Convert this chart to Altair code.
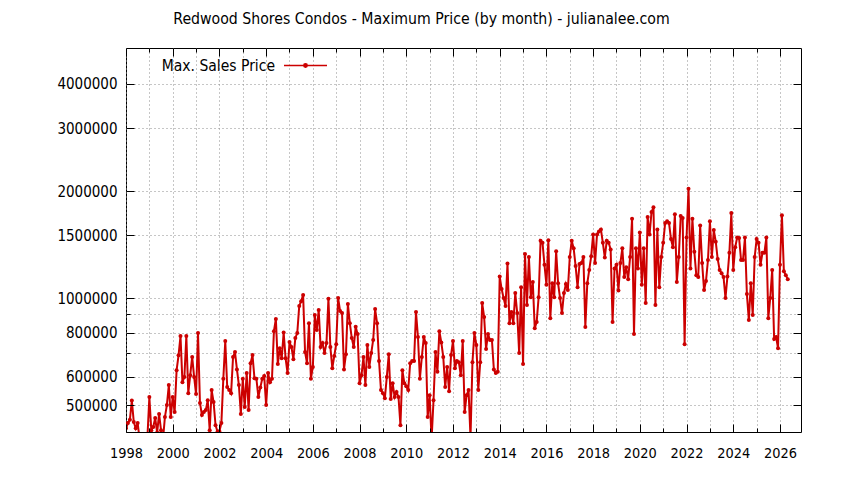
import altair as alt
import pandas as pd

TITLE = "Redwood Shores Condos - Maximum Price (by month) - julianalee.com"
SERIES = "Max. Sales Price"
FONT = "DejaVu Sans Condensed, DejaVu Sans"
RED = "#cc0000"

# Monthly maximum sales price, in thousands of dollars (Jan..Dec of each year)
p1998 = [430, 445, 455, 515, 448, 430, 445, 400, 385, 410, 395, 405]
p1999 = [527, 425, 434, 460, 418, 472, 425, 400, 463, 500, 569, 463]
p2000 = [527, 478, 627, 690, 782, 580, 600, 782, 540, 607, 683, 600]
p2001 = [537, 797, 507, 469, 478, 484, 516, 425, 551, 510, 439, 421]
p2002 = [422, 445, 593, 757, 562, 551, 540, 683, 705, 630, 569, 472]
p2003 = [593, 494, 615, 484, 656, 691, 595, 593, 527, 560, 593, 604]
p2004 = [500, 615, 580, 593, 807, 873, 652, 723, 677, 800, 677, 615]
p2005 = [752, 728, 673, 772, 797, 950, 980, 1020, 705, 656, 850, 593]
p2006 = [640, 896, 813, 925, 728, 747, 700, 747, 995, 728, 635, 687]
p2007 = [742, 1000, 919, 907, 630, 695, 962, 850, 772, 728, 830, 792]
p2008 = [576, 607, 683, 569, 738, 640, 700, 762, 931, 850, 665, 551]
p2009 = [540, 523, 600, 695, 520, 576, 527, 544, 527, 439, 627, 576]
p2010 = [565, 551, 656, 665, 665, 913, 777, 593, 683, 777, 747, 463]
p2011 = [533, 400, 516, 705, 620, 807, 750, 683, 562, 640, 547, 691]
p2012 = [757, 635, 665, 660, 607, 757, 478, 533, 551, 405, 660, 797]
p2013 = [738, 551, 660, 968, 885, 719, 792, 762, 762, 630, 615, 620]
p2014 = [1150, 1060, 1000, 950, 1250, 850, 913, 850, 1033, 907, 700, 1073]
p2015 = [652, 1330, 956, 1304, 1006, 1110, 823, 856, 1006, 1450, 1430, 1240]
p2016 = [1090, 1455, 878, 1100, 1006, 1355, 1100, 1000, 907, 1033, 1095, 1053]
p2017 = [1304, 1450, 1380, 1230, 1073, 1246, 1254, 1304, 829, 1100, 1200, 1310]
p2018 = [1510, 1254, 1510, 1540, 1560, 1430, 1300, 1450, 1430, 1370, 856, 1210]
p2019 = [1240, 1050, 1254, 1380, 1146, 1220, 1130, 1304, 1670, 792, 1380, 1210]
p2020 = [1530, 1090, 1380, 968, 1690, 1510, 1745, 1800, 956, 1560, 1073, 1304]
p2021 = [1430, 1625, 1645, 1625, 1465, 1390, 1720, 1110, 1304, 1700, 1680, 742]
p2022 = [1480, 2030, 1210, 1670, 1350, 1160, 1146, 1600, 1254, 1053, 1117, 1279]
p2023 = [1645, 1304, 1553, 1440, 1287, 1200, 1175, 1146, 1000, 1150, 1340, 1735]
p2024 = [1200, 1390, 1480, 1475, 1279, 1279, 1480, 1026, 867, 1100, 896, 1304]
p2025 = [1465, 1430, 1240, 1340, 1340, 1480, 878, 1000, 1200, 767, 777, 723]
p2026 = [1240, 1710, 1190, 1160, 1130]

yearly = [
    (1998, p1998), (1999, p1999), (2000, p2000), (2001, p2001), (2002, p2002),
    (2003, p2003), (2004, p2004), (2005, p2005), (2006, p2006), (2007, p2007),
    (2008, p2008), (2009, p2009), (2010, p2010), (2011, p2011), (2012, p2012),
    (2013, p2013), (2014, p2014), (2015, p2015), (2016, p2016), (2017, p2017),
    (2018, p2018), (2019, p2019), (2020, p2020), (2021, p2021), (2022, p2022),
    (2023, p2023), (2024, p2024), (2025, p2025), (2026, p2026),
]

# Axis tick values
x_years = list(range(1998, 2027))
x_major = [y for y in x_years if y % 2 == 0]
x_minor = [y for y in x_years if y % 2 == 1]
y_labeled = [500000, 600000, 800000, 1000000, 1500000, 2000000, 3000000, 4000000]
y_minor = [700000, 900000]
y_grid = sorted(y_labeled + y_minor)

rows = []
for yr, vals in yearly:
    for mi, v in enumerate(vals):
        rows.append({"t": yr + mi / 12.0, "price": v * 1000, "series": SERIES})
df = pd.DataFrame(rows)

xs = alt.Scale(domain=[1998, 2026.9], nice=False, zero=False)
ys = alt.Scale(type="log", domain=[420000, 5050000], nice=False)

GRID = dict(grid=True, gridColor="#8c8c8c", gridDash=[1, 3], gridWidth=1)

x_label_axis = alt.Axis(
    orient="bottom", values=x_years, ticks=False, tickSize=0, domain=False,
    labelExpr="datum.value % 2 == 0 ? format(datum.value, 'd') : ''",
    labelFlush=False, labelOverlap=False, labelPadding=25, labelBaseline="alphabetic",
    labelFont=FONT, labelFontSize=14.4, labelColor="black", **GRID,
)
y_label_axis = alt.Axis(
    orient="left", values=y_grid, ticks=False, tickSize=0, domain=False,
    labelExpr="(datum.value == 700000 || datum.value == 900000) ? '' : format(datum.value, 'd')",
    labelFlush=False, labelOverlap=False, labelPadding=9,
    labelFont=FONT, labelFontSize=15, labelColor="black", **GRID,
)

legend_symbol = "M-1,0L1,0M-0.08,0A0.08,0.08,0,1,0,0.08,0A0.08,0.08,0,1,0,-0.08,0Z"

line = alt.Chart(df).mark_line(
    strokeWidth=2, clip=True,
    point=alt.OverlayMarkDef(filled=True, size=16, clip=True),
).encode(
    x=alt.X("t:Q", scale=xs, title=None, axis=x_label_axis),
    y=alt.Y("price:Q", scale=ys, title=None, axis=y_label_axis),
    color=alt.Color(
        "series:N",
        scale=alt.Scale(domain=[SERIES], range=[RED]),
        legend=alt.Legend(
            title=None, orient="none", legendX=157, legendY={"expr": "-5"}, padding=0,
            symbolType=legend_symbol, symbolSize=1849, symbolStrokeWidth=1.5,
            symbolStrokeColor=RED, symbolFillColor=RED,
            labelAlign="right", labelOffset={"expr": "-53"}, labelFont=FONT, labelFontSize=15.5,
            labelColor="black", labelLimit=0,
        ),
    ),
)


def tick_axis(orient, values, size):
    return alt.Axis(
        orient=orient, values=values, labels=False, domain=False, grid=False,
        ticks=True, tickSize=size, offset=-size, tickColor="black", tickWidth=1,
        zindex=1, title=None, minExtent=0, maxExtent=0,
    )


def tick_layer(xo, xv, xsz, yo, yv, ysz):
    return alt.Chart(df).transform_filter("datum.t == 1998").mark_point(opacity=0).encode(
        x=alt.X("t:Q", scale=xs, title=None, axis=tick_axis(xo, xv, xsz)),
        y=alt.Y("price:Q", scale=ys, title=None, axis=tick_axis(yo, yv, ysz)),
    )


chart = alt.layer(
    line,
    tick_layer("bottom", x_major, 8, "left", y_labeled, 8),
    tick_layer("bottom", x_minor, 4, "left", y_minor, 4),
    tick_layer("top", x_major, 8, "right", y_labeled, 8),
    tick_layer("top", x_minor, 4, "right", y_minor, 4),
).resolve_axis(
    x="independent", y="independent"
).properties(
    width=675, height=384,
    autosize=alt.AutoSizeParams(type="none"),
    padding={"left": 118, "top": 40, "right": 35, "bottom": 40},
    title=alt.TitleParams(
        text=TITLE, font=FONT, fontSize=15.7, fontWeight="normal", color="black",
        anchor="middle", frame="group", dx=-42, dy=21, offset=24, baseline="alphabetic",
    ),
).configure(
    font=FONT,
).configure_view(
    stroke="black", strokeWidth=1,
)

chart.save("out.html", embed_options={"renderer": "svg", "actions": False})
